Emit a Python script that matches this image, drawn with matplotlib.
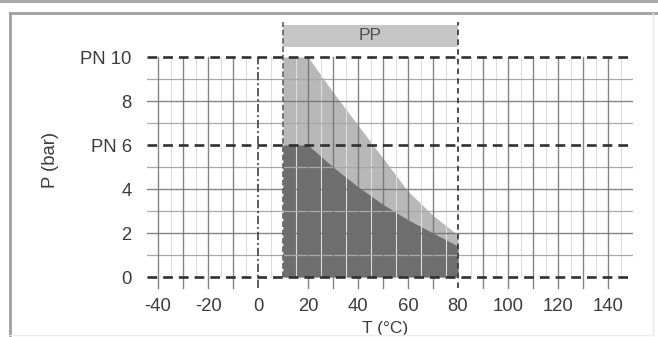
import matplotlib
matplotlib.use("Agg")
import matplotlib.pyplot as plt
from matplotlib.lines import Line2D
import numpy as np

plt.rcParams['font.family'] = ['Liberation Sans', 'DejaVu Sans']
plt.rcParams['lines.scale_dashes'] = False

# Data
temp = [10, 20, 30, 40, 50, 60, 70, 80]
p_pn10 = [10, 10, 8.4, 6.9, 5.4, 3.9, 2.8, 1.9]
p_pn6 = [6, 6, 5.0, 4.1, 3.3, 2.6, 2.0, 1.4]
x_ticks = [-40, -20, 0, 20, 40, 60, 80, 100, 120, 140]
y_ticks = [0, 2, 4, 6, 8, 10]
y_labels = ["0", "2", "4", "PN 6", "8", "PN 10"]
material = "PP"
mat_range = [10, 80]

W, H = 658, 337
fig = plt.figure(figsize=(W / 100, H / 100), dpi=100)

# axes placement (pixel coords)
ax_l, ax_r, ax_t, ax_b = 147, 633, 20, 290
ax = fig.add_axes([ax_l / W, (H - ax_b) / H, (ax_r - ax_l) / W, (ax_b - ax_t) / H])
xmin, xmax = -44.4, 150
ax.set_xlim(xmin, xmax)
ymax = (277 - ax_t) / 22
ymin = (277 - ax_b) / 22
ax.set_ylim(ymin, ymax)
for s in ax.spines.values():
    s.set_visible(False)

txt_col = '#3c3c3c'
ax.set_xticks(x_ticks)
ax.set_xticklabels([str(v) for v in x_ticks])
ax.set_yticks(y_ticks)
ax.set_yticklabels(y_labels)
ax.tick_params(axis='both', length=0, labelsize=13.3, colors=txt_col)
ax.tick_params(axis='x', pad=6)
ax.tick_params(axis='y', pad=11)

# fills
ax.fill_between(temp, 0, p_pn10, color='#b8b8b8', lw=0, zorder=1)
ax.fill_between(temp, 0, p_pn6, color='#6e6e6e', lw=0, zorder=1.5)

# minor grid
for xv in np.arange(-35, 150, 10):
    ax.plot([xv, xv], [0, 10], color='#dddddd', lw=0.8, zorder=2)
for yv in [1, 3, 5, 7, 9]:
    ax.plot([xmin, xmax], [yv, yv], color='#a8a8a8', lw=0.9, zorder=2)
# major grid
for xv in range(-40, 150, 10):
    if xv in (0, 10, 80):
        continue
    ax.plot([xv, xv], [-0.5, 10], color='#707070', lw=1.0, alpha=0.85, zorder=2.5)
for yv in [2, 4, 8]:
    ax.plot([xmin, xmax], [yv, yv], color='#707070', lw=1.0, alpha=0.85, zorder=2.5)

# PP bar
top_bar = (277 - 25) / 22
bot_bar = (277 - 47) / 22
ax.fill_between(mat_range, bot_bar, top_bar, color='#c6c6c6', lw=0, zorder=2)
ax.text(np.mean(mat_range), (top_bar + bot_bar) / 2, material, ha='center', va='center',
        fontsize=12.5, color='#505050', zorder=5)

# vertical special lines
ax.plot([0, 0], [-0.5, 10], color='#404040', lw=1.2, dashes=[6, 2, 1.5, 2], zorder=3)
ax.plot([10, 10], [0, (277 - 22) / 22], color='#606060', lw=1.2, dashes=[4, 2], zorder=3,
        clip_on=False)
ax.plot([80, 80], [-0.5, (277 - 22) / 22], color='#404040', lw=1.3, dashes=[4, 3], zorder=3,
        clip_on=False)

# dashed PN lines
for yv in [0, 6, 10]:
    ax.plot([xmin, xmax], [yv, yv], color='#303030', lw=1.9, dashes=[7, 4.3], zorder=4)

# axis labels
ax.text(-83, 5.3, "P (bar)", rotation=90, ha='center', va='center', fontsize=13.3,
        color=txt_col, clip_on=False)
ax.text(51, (277 - 336) / 22, "T (°C)", ha='center', va='bottom', fontsize=12.5,
        color=txt_col, clip_on=False)

# outer frame lines
def hline(y, x0, x1, color, lw):
    fig.add_artist(Line2D([x0 / W, x1 / W], [1 - y / H, 1 - y / H], color=color, lw=lw,
                          transform=fig.transFigure))

def vline(x, y0, y1, color, lw):
    fig.add_artist(Line2D([x / W, x / W], [1 - y0 / H, 1 - y1 / H], color=color, lw=lw,
                          transform=fig.transFigure))

hline(1.2, 0, W, '#a8a8a8', 2.2)
hline(13, 9.5, W, '#a0a0a0', 2.0)
vline(9.8, 13, H, '#a0a0a0', 2.0)
vline(653, 13, 335, '#e6e6e6', 1.0)
hline(335, 9.5, 653, '#ececec', 1.0)

fig.savefig("out.png", dpi=100)
